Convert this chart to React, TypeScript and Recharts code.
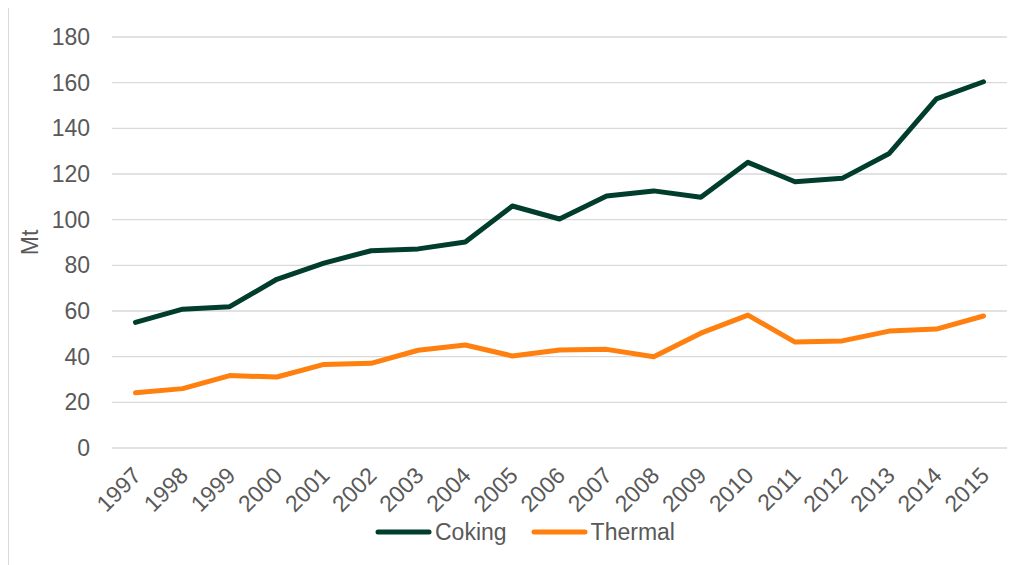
import React from "react";
import {
  LineChart,
  Line,
  XAxis,
  YAxis,
  CartesianGrid,
  Legend,
} from "recharts";

const years = [
  "1997", "1998", "1999", "2000", "2001", "2002", "2003", "2004", "2005", "2006",
  "2007", "2008", "2009", "2010", "2011", "2012", "2013", "2014", "2015",
];

const coking = [
  55, 60.8, 61.9, 73.9, 81, 86.4, 87.2, 90.2, 106, 100.3,
  110.4, 112.6, 109.8, 125.1, 116.6, 118.1, 129, 152.9, 160.4,
];

const thermal = [
  24.2, 26, 31.7, 31.1, 36.6, 37.1, 42.8, 45.1, 40.3, 42.9,
  43.2, 40, 50.3, 58.2, 46.4, 46.9, 51.2, 52.1, 57.8,
];

const yTicks = [0, 20, 40, 60, 80, 100, 120, 140, 160, 180];

const series = [
  { key: "Coking", color: "#003d2c" },
  { key: "Thermal", color: "#ff7f0f" },
];

const data = years.map((year, i) => ({
  year,
  Coking: coking[i],
  Thermal: thermal[i],
}));

const FONT = '"Liberation Sans", Arial, sans-serif';
const TEXT = "#595959";

function YearTick({ x, y, payload }: any) {
  return (
    <g transform={`translate(${x + 7},${y + 29})`}>
      <text
        x={0}
        y={0}
        textAnchor="end"
        transform="rotate(-45)"
        fill={TEXT}
        fontSize={23}
        fontFamily={FONT}
      >
        {payload.value}
      </text>
    </g>
  );
}

function renderLegend() {
  return (
    <div
      style={{
        display: "flex",
        alignItems: "center",
        height: 30,
        fontFamily: FONT,
        fontSize: 23,
        color: TEXT,
      }}
    >
      {series.map((s, i) => (
        <div
          key={s.key}
          style={{ display: "flex", alignItems: "center", marginLeft: i ? 24 : 0 }}
        >
          <svg width={57} height={8} style={{ marginRight: 3 }}>
            <line
              x1={3}
              y1={4}
              x2={54}
              y2={4}
              stroke={s.color}
              strokeWidth={5}
              strokeLinecap="round"
            />
          </svg>
          <span>{s.key}</span>
        </div>
      ))}
    </div>
  );
}

function MtLabel({ viewBox }: any) {
  const cy = viewBox.y + viewBox.height / 2;
  return (
    <text
      x={21}
      y={cy}
      transform={`rotate(-90, 21, ${cy})`}
      textAnchor="middle"
      dominantBaseline="central"
      fill={TEXT}
      fontSize={23}
      fontFamily={FONT}
    >
      Mt
    </text>
  );
}

export default function App() {
  // frame runs off the right and bottom edges of the picture
  return (
    <div style={{ width: 1018, height: 558, marginTop: -1, overflow: "hidden" }}>
      <div
        style={{
          position: "relative",
          width: 1040,
          height: 580,
          border: "1px solid #d9d9d9",
          background: "#fff",
        }}
      >
        <LineChart
          width={1010}
          height={550}
          data={data}
          margin={{ top: 29, right: 12, bottom: 20, left: 0 }}
        >
          <CartesianGrid vertical={false} stroke="#d9d9d9" strokeWidth={1.3} />
          <XAxis
            dataKey="year"
            axisLine={false}
            tickLine={false}
            tickSize={0}
            tickMargin={0}
            height={60}
            interval={0}
            padding={{ left: 23.5, right: 23.5 }}
            tick={<YearTick />}
          />
          <YAxis
            width={103}
            domain={[0, 180]}
            ticks={yTicks}
            axisLine={false}
            tickLine={false}
            tickSize={0}
            tickMargin={22}
            tick={{ fill: TEXT, fontSize: 23, fontFamily: FONT }}
            label={{ content: <MtLabel /> }}
          />
          <Legend
            verticalAlign="bottom"
            content={renderLegend}
            wrapperStyle={{ left: 366, top: 509, width: 400, height: 30 }}
          />
          {series.map((s) => (
            <Line
              key={s.key}
              type="linear"
              dataKey={s.key}
              stroke={s.color}
              strokeWidth={5}
              strokeLinejoin="round"
              strokeLinecap="round"
              dot={false}
              activeDot={false}
              isAnimationActive={false}
            />
          ))}
        </LineChart>
      </div>
    </div>
  );
}
